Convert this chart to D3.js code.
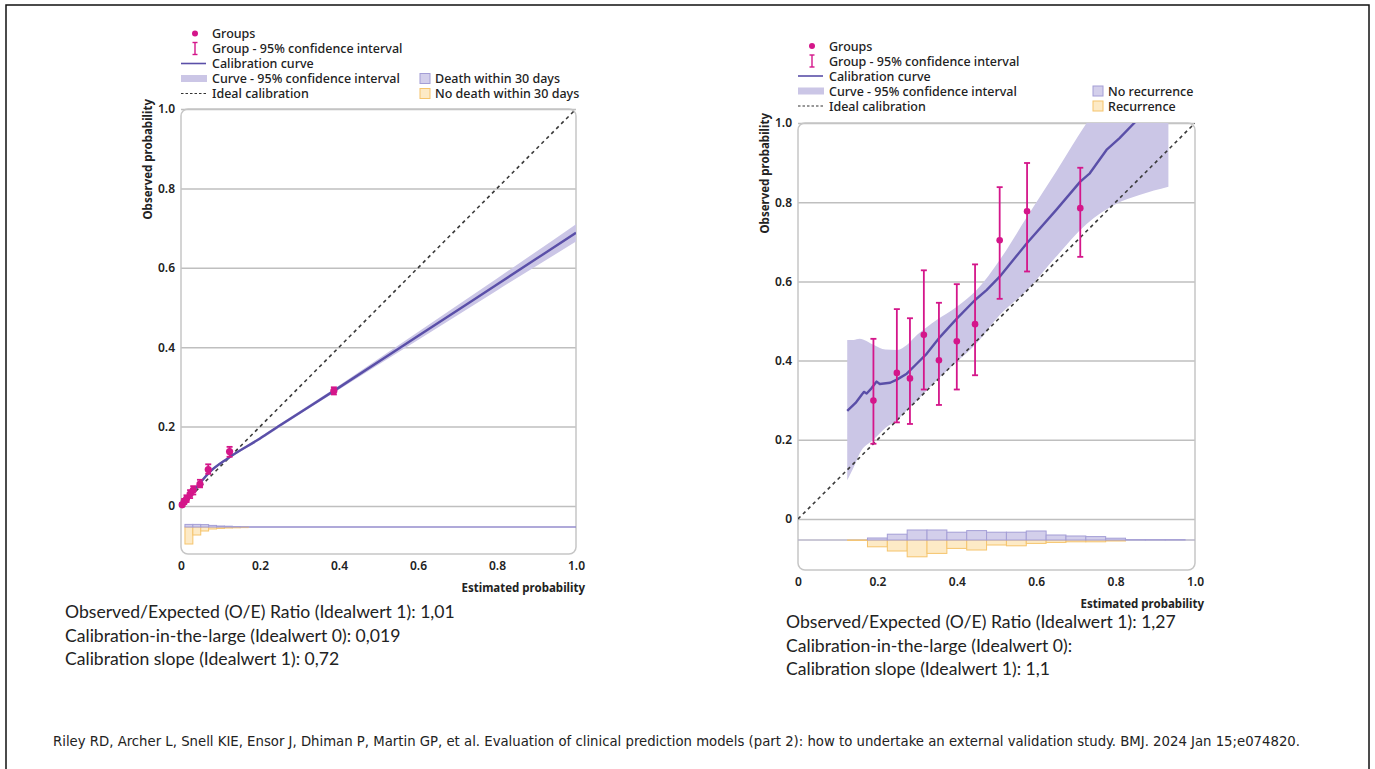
<!DOCTYPE html>
<html>
<head>
<meta charset="utf-8">
<script src="https://cdn.jsdelivr.net/npm/d3@7"></script>
<style>
  body { margin: 0; background: #fff; }
  text { font-family: "Noto Sans", "Open Sans", sans-serif; fill: #222; }
</style>
</head>
<body>
<svg id="chart" width="1375" height="769"></svg>
<script>
const TICKS = [0, 0.2, 0.4, 0.6, 0.8, 1.0]

// ---- left panel: death within 30 days ----
const leftGroupX = [0.003, 0.008, 0.014, 0.023, 0.031, 0.048, 0.069, 0.123, 0.387]
const leftGroupY = [0.003, 0.011, 0.018, 0.030, 0.040, 0.055, 0.092, 0.137, 0.290]
const leftGroupLo = [0.000, 0.005, 0.010, 0.020, 0.029, 0.047, 0.081, 0.124, 0.281]
const leftGroupHi = [0.008, 0.018, 0.027, 0.040, 0.050, 0.066, 0.105, 0.149, 0.299]

const leftCurveX = [0, 0.02, 0.05, 0.07, 0.12, 0.2, 0.246, 0.387, 0.6, 0.8, 1.0]
const leftCurveY = [0.003, 0.025, 0.06, 0.083, 0.121, 0.17, 0.2, 0.29, 0.428, 0.558, 0.688]
const leftBandLo = [0, 0.022, 0.057, 0.08, 0.118, 0.166, 0.196, 0.285, 0.418, 0.543, 0.666]
const leftBandHi = [0.006, 0.028, 0.063, 0.086, 0.124, 0.174, 0.204, 0.295, 0.438, 0.573, 0.71]

const leftBinStart = [0.01, 0.03, 0.05, 0.07, 0.09, 0.11, 0.13, 0.15]
const leftBinWidth = 0.02
const leftEvent = [0.13, 0.13, 0.12, 0.08, 0.05, 0.04, 0.02, 0.01]     // death within 30 days
const leftNoEvent = [0.85, 0.40, 0.20, 0.10, 0.07, 0.05, 0.04, 0.03]   // no death within 30 days

// ---- right panel: recurrence ----
const rightGroupX = [0.19, 0.249, 0.282, 0.317, 0.355, 0.40, 0.446, 0.508, 0.577, 0.711]
const rightGroupY = [0.299, 0.369, 0.355, 0.465, 0.401, 0.449, 0.492, 0.704, 0.777, 0.785]
const rightGroupLo = [0.19, 0.244, 0.24, 0.327, 0.288, 0.327, 0.363, 0.556, 0.625, 0.662]
const rightGroupHi = [0.455, 0.53, 0.507, 0.628, 0.546, 0.593, 0.643, 0.838, 0.899, 0.887]

const rightCurveX = [0.124, 0.145, 0.16, 0.166, 0.173, 0.185, 0.198, 0.206, 0.232, 0.249, 0.274, 0.299, 0.324, 0.358, 0.40, 0.446, 0.475, 0.508, 0.577, 0.65, 0.711, 0.735, 0.777, 0.81, 0.847, 0.9]
const rightCurveY = [0.273, 0.293, 0.313, 0.321, 0.317, 0.33, 0.347, 0.341, 0.344, 0.352, 0.367, 0.392, 0.417, 0.46, 0.506, 0.553, 0.578, 0.612, 0.697, 0.78, 0.852, 0.873, 0.932, 0.962, 1.0, 1.06]

const rightBandX = [0.124, 0.14, 0.155, 0.19, 0.22, 0.25, 0.275, 0.30, 0.325, 0.35, 0.40, 0.45, 0.508, 0.577, 0.65, 0.727, 0.80, 0.86, 0.933]
const rightBandLo = [0.098, 0.13, 0.165, 0.20, 0.23, 0.25, 0.275, 0.30, 0.326, 0.351, 0.397, 0.444, 0.515, 0.578, 0.662, 0.745, 0.795, 0.818, 0.839]
const rightBandHi = [0.452, 0.452, 0.455, 0.44, 0.428, 0.427, 0.44, 0.465, 0.485, 0.503, 0.536, 0.578, 0.654, 0.763, 0.877, 1.0, 1.1, 1.2, 1.3]

const rightBinStart = [0.125, 0.175, 0.225, 0.275, 0.325, 0.375, 0.425, 0.475, 0.525, 0.575, 0.625, 0.675, 0.725, 0.775, 0.825, 0.875, 0.925]
const rightBinWidth = 0.05
const rightEvent = [0, 0.10, 0.29, 0.50, 0.50, 0.39, 0.47, 0.39, 0.39, 0.45, 0.25, 0.20, 0.17, 0.09, 0.02, 0.02, 0.02]     // no recurrence
const rightNoEvent = [0.02, 0.34, 0.55, 0.84, 0.67, 0.42, 0.50, 0.25, 0.29, 0.17, 0.12, 0.09, 0.09, 0.05, 0, 0, 0]       // recurrence

const leftStats = [
  'Observed/Expected (O/E) Ratio (Idealwert 1): 1,01',
  'Calibration-in-the-large (Idealwert 0): 0,019',
  'Calibration slope (Idealwert 1): 0,72'
]
const rightStats = [
  'Observed/Expected (O/E) Ratio (Idealwert 1): 1,27',
  'Calibration-in-the-large (Idealwert 0):',
  'Calibration slope (Idealwert 1): 1,1'
]
const citation = 'Riley RD, Archer L, Snell KIE, Ensor J, Dhiman P, Martin GP, et al. Evaluation of clinical prediction models (part 2): how to undertake an external validation study. BMJ. 2024 Jan 15;e074820.'

// colours
const PINK = '#d4168a'
const CURVE = '#5a4fa8'
const BAND = '#cbc6e6'
const HIST_P = '#d3cfeb', HIST_P_LINE = '#a49ed6'
const HIST_O = '#fdeac6', HIST_O_LINE = '#f5c46c'
const GRID = '#bfbfbf'

const svg = d3.select('#chart')

// slide frame
svg.append('rect')
  .attr('x', 6).attr('y', 5).attr('width', 1363).attr('height', 790)
  .attr('fill', 'none').attr('stroke', '#111').attr('stroke-width', 1.5)

function zip(xs, ys) { return xs.map((v, i) => [v, ys[i]]) }

function drawPanel(p) {
  const x = d3.scaleLinear().domain([0, 1]).range([p.left, p.right])
  const y = d3.scaleLinear().domain([0, 1]).range([p.y0, p.y1])
  const h = d3.scaleLinear().domain([0, 1]).range([0, 20])
  const w = p.right - p.left
  const boxBottom = y(0) + p.below
  const base = y(0) + p.histOffset
  const g = svg.append('g')

  const clipId = 'clip' + p.id
  g.append('clipPath').attr('id', clipId).append('rect')
    .attr('x', p.left).attr('y', y(1)).attr('width', w).attr('height', boxBottom - y(1))

  // gridlines
  g.append('g')
    .attr('transform', 'translate(' + p.left + ',0)')
    .call(d3.axisLeft(y).tickValues(TICKS).tickSize(-w).tickFormat(''))
    .call(s => s.select('.domain').remove())
    .selectAll('line').attr('stroke', GRID).attr('stroke-width', 1.5)

  // plot box
  g.append('rect')
    .attr('x', p.left).attr('y', y(1))
    .attr('width', w).attr('height', boxBottom - y(1))
    .attr('rx', 7).attr('fill', 'none')
    .attr('stroke', '#c6c6c6').attr('stroke-width', 1.5)

  // y tick labels
  g.append('g')
    .attr('transform', 'translate(' + p.left + ',0)')
    .call(d3.axisLeft(y).tickValues(TICKS).tickSize(0).tickPadding(6)
      .tickFormat(d => d === 0 ? '0' : d3.format('.1f')(d)))
    .call(s => s.select('.domain').remove())
    .selectAll('text')
    .style('font-size', '12px').style('font-weight', 600).attr('fill', '#333')

  // x tick labels
  g.append('g')
    .attr('transform', 'translate(0,' + boxBottom + ')')
    .call(d3.axisBottom(x).tickValues(TICKS).tickSize(0).tickPadding(7)
      .tickFormat(d => d === 0 ? '0' : d3.format('.1f')(d)))
    .call(s => s.select('.domain').remove())
    .selectAll('text')
    .style('font-size', '12px').style('font-weight', 600).attr('fill', '#333')

  // axis titles
  g.append('text')
    .attr('transform', 'translate(' + (p.left - 29) + ',' + (y(1) - 10) + ') rotate(-90)')
    .attr('text-anchor', 'end')
    .style('font-size', '11.5px').style('font-weight', 700)
    .text('Observed probability')
  g.append('text')
    .attr('x', p.right + 9).attr('y', boxBottom + 38)
    .attr('text-anchor', 'end')
    .style('font-size', '11.5px').style('font-weight', 700)
    .text('Estimated probability')

  // histogram baseline
  g.append('line')
    .attr('x1', x(p.baseFrom)).attr('x2', x(1)).attr('y1', base).attr('y2', base)
    .attr('stroke', p.baseColor).attr('stroke-width', 1.5)

  // histograms
  g.selectAll('.bar-o')
    .data(p.binStart.map((s, i) => ({ s: s, v: p.noEvent[i] })).filter(d => d.v > 0))
    .enter().append('rect')
    .attr('x', d => x(d.s)).attr('width', x(p.binWidth) - x(0))
    .attr('y', base).attr('height', d => h(d.v))
    .attr('fill', HIST_O).attr('stroke', HIST_O_LINE).attr('stroke-width', 1)
  g.selectAll('.bar-p')
    .data(p.binStart.map((s, i) => ({ s: s, v: p.event[i] })).filter(d => d.v > 0))
    .enter().append('rect')
    .attr('x', d => x(d.s)).attr('width', x(p.binWidth) - x(0))
    .attr('y', d => base - h(d.v)).attr('height', d => h(d.v))
    .attr('fill', HIST_P).attr('stroke', HIST_P_LINE).attr('stroke-width', 1)

  const clipped = g.append('g').attr('clip-path', 'url(#' + clipId + ')')

  // confidence band of the curve
  const bandData = p.bandX.map((v, i) => ({ x: v, lo: p.bandLo[i], hi: p.bandHi[i] }))
  clipped.append('path')
    .datum(bandData)
    .attr('d', d3.area().x(d => x(d.x)).y0(d => y(d.lo)).y1(d => y(d.hi)).curve(d3.curveMonotoneX))
    .attr('fill', BAND)

  // ideal calibration
  clipped.append('line')
    .attr('x1', x(0)).attr('y1', y(0)).attr('x2', x(1)).attr('y2', y(1))
    .attr('stroke', '#3a3a3a').attr('stroke-width', 1.6).attr('stroke-dasharray', '3.5,3.5')

  // calibration curve
  clipped.append('path')
    .datum(zip(p.curveX, p.curveY))
    .attr('d', d3.line().x(d => x(d[0])).y(d => y(d[1])).curve(p.curve))
    .attr('fill', 'none').attr('stroke', CURVE).attr('stroke-width', 2.4)
    .attr('stroke-linejoin', 'round')

  // grouped observed proportions with 95% CI
  const groups = p.groupX.map((v, i) => ({ x: v, y: p.groupY[i], lo: p.groupLo[i], hi: p.groupHi[i] }))
  const gg = g.selectAll('.grp').data(groups).enter().append('g')
  gg.append('line')
    .attr('x1', d => x(d.x)).attr('x2', d => x(d.x))
    .attr('y1', d => y(d.lo)).attr('y2', d => y(d.hi))
    .attr('stroke', PINK).attr('stroke-width', 1.8)
  ;['lo', 'hi'].forEach(k => {
    gg.append('line')
      .attr('x1', d => x(d.x) - p.cap).attr('x2', d => x(d.x) + p.cap)
      .attr('y1', d => y(d[k])).attr('y2', d => y(d[k]))
      .attr('stroke', PINK).attr('stroke-width', 1.8)
  })
  gg.append('circle')
    .attr('cx', d => x(d.x)).attr('cy', d => y(d.y)).attr('r', p.r)
    .attr('fill', PINK)
}

function drawLegend(lx, ly, histX, histLabels) {
  const g = svg.append('g').style('font-size', '12.5px')
  const step = 15
  const mx = lx, tx = lx + 31
  const rows = ['Groups', 'Group - 95% confidence interval', 'Calibration curve', 'Curve - 95% confidence interval', 'Ideal calibration']
  rows.forEach((t, i) => {
    g.append('text').attr('x', tx).attr('y', ly + i * step + 4.5).style('font-weight', 500).text(t)
  })
  const cy = i => ly + i * step
  g.append('circle').attr('cx', mx + 14).attr('cy', cy(0)).attr('r', 3).attr('fill', PINK)
  g.append('line').attr('x1', mx + 14).attr('x2', mx + 14).attr('y1', cy(1) - 6).attr('y2', cy(1) + 6)
    .attr('stroke', PINK).attr('stroke-width', 1.4)
  ;[-6, 6].forEach(o => g.append('line').attr('x1', mx + 11.5).attr('x2', mx + 16.5)
    .attr('y1', cy(1) + o).attr('y2', cy(1) + o).attr('stroke', PINK).attr('stroke-width', 1.4))
  g.append('line').attr('x1', mx).attr('x2', mx + 25).attr('y1', cy(2)).attr('y2', cy(2))
    .attr('stroke', CURVE).attr('stroke-width', 1.6)
  g.append('rect').attr('x', mx).attr('y', cy(3) - 3.5).attr('width', 26).attr('height', 7).attr('fill', BAND)
  g.append('line').attr('x1', mx).attr('x2', mx + 25).attr('y1', cy(4)).attr('y2', cy(4))
    .attr('stroke', '#333').attr('stroke-width', 1.2).attr('stroke-dasharray', '2.5,2')

  const fills = [[HIST_P, HIST_P_LINE], [HIST_O, HIST_O_LINE]]
  histLabels.forEach((t, i) => {
    g.append('rect').attr('x', histX).attr('y', cy(3 + i) - 5).attr('width', 10).attr('height', 10)
      .attr('fill', fills[i][0]).attr('stroke', fills[i][1]).attr('stroke-width', 1)
    g.append('text').attr('x', histX + 15).attr('y', cy(3 + i) + 4.5).style('font-weight', 500).text(t)
  })
}

drawPanel({
  id: 'L', left: 181, right: 576, y0: 506, y1: 109, below: 48, histOffset: 21,
  groupX: leftGroupX, groupY: leftGroupY, groupLo: leftGroupLo, groupHi: leftGroupHi,
  curveX: leftCurveX, curveY: leftCurveY, curve: d3.curveMonotoneX,
  bandX: leftCurveX, bandLo: leftBandLo, bandHi: leftBandHi,
  binStart: leftBinStart, binWidth: leftBinWidth, event: leftEvent, noEvent: leftNoEvent,
  baseFrom: 0.01, baseColor: '#948dcc', cap: 3, r: 3.6
})
drawPanel({
  id: 'R', left: 798, right: 1195, y0: 519, y1: 123, below: 51, histOffset: 21,
  groupX: rightGroupX, groupY: rightGroupY, groupLo: rightGroupLo, groupHi: rightGroupHi,
  curveX: rightCurveX, curveY: rightCurveY, curve: d3.curveLinear,
  bandX: rightBandX, bandLo: rightBandLo, bandHi: rightBandHi,
  binStart: rightBinStart, binWidth: rightBinWidth, event: rightEvent, noEvent: rightNoEvent,
  baseFrom: 0, baseColor: '#b8b6c8', cap: 3, r: 3.3
})

drawLegend(181, 33.5, 420, ['Death within 30 days', 'No death within 30 days'])
drawLegend(798, 46, 1093, ['No recurrence', 'Recurrence'])

// summary statistics under the panels, sized so the first line spans the same width as in the slide
function drawStats(lines, sx, sy, firstWidth) {
  const t = svg.append('g').selectAll('text').data(lines).enter().append('text')
    .attr('x', sx).attr('y', (d, i) => sy + i * 23.5)
    .style('font-family', 'Lato, "Open Sans", sans-serif').style('font-size', '16px')
    .attr('fill', '#111')
    .text(d => d)
  const len = t.node().getComputedTextLength()
  t.style('font-size', (16 * firstWidth / len).toFixed(2) + 'px')
}
drawStats(leftStats, 65, 618, 390)
drawStats(rightStats, 786, 628, 390)

svg.append('text')
  .attr('x', 53).attr('y', 746)
  .style('font-family', '"DejaVu Sans Condensed", "Liberation Sans Narrow", sans-serif')
  .style('font-stretch', 'condensed')
  .style('font-size', '13.5px').attr('fill', '#111')
  .attr('textLength', 1247).attr('lengthAdjust', 'spacingAndGlyphs')
  .text(citation)
</script>
</body>
</html>
